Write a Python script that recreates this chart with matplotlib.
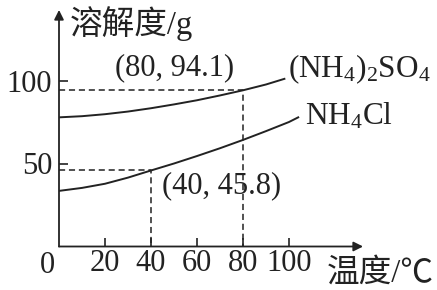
import matplotlib
matplotlib.use("Agg")
import matplotlib.pyplot as plt

plt.rcParams['font.family'] = ['Liberation Serif', 'Noto Sans CJK SC']
plt.rcParams['mathtext.fontset'] = 'custom'
plt.rcParams['mathtext.rm'] = 'Liberation Serif'
plt.rcParams['mathtext.it'] = 'Liberation Serif:italic'

# données
temp_sulfate = [0, 10, 20, 30, 40, 50, 60, 70, 80, 90, 98]
sol_sulfate = [77.8, 78.5, 79.7, 81.3, 83.3, 85.6, 88.1, 91.0, 94.1, 97.6, 101.0]
temp_chlorure = [0, 10, 20, 30, 40, 50, 60, 70, 80, 90, 100, 104]
sol_chlorure = [33.5, 35.3, 37.8, 41.5, 45.8, 50.0, 54.5, 59.2, 64.2, 69.5, 75.0, 77.8]
point_sulfate = (80, 94.1)
point_chlorure = (40, 45.8)
xticks = [20, 40, 60, 80, 100]
yticks = [50, 100]
xmax, ymax = 132.2, 142.5

fig = plt.figure(figsize=(4.37, 2.90), dpi=100)
W, H = 437, 290
x0, y0 = 59, 246.5
sx, sy = 2.3, 1.66
ax = fig.add_axes([x0 / W, (H - y0) / H, xmax * sx / W, ymax * sy / H])
ax.set_xlim(0, xmax)
ax.set_ylim(0, ymax)
for s in ax.spines.values():
    s.set_visible(False)

c = '#222222'

# axes avec flèches
arrow = dict(arrowstyle='-|>', lw=1.3, color=c, mutation_scale=14, shrinkA=0, shrinkB=0)
ax.annotate('', xy=(xmax, 0), xytext=(0, 0), arrowprops=arrow, annotation_clip=False)
ax.annotate('', xy=(0, ymax), xytext=(0, 0), arrowprops=arrow, annotation_clip=False)

ax.set_xticks(xticks)
ax.set_yticks(yticks)
ax.tick_params(direction='in', length=6.5, width=1.2, color=c, labelsize=22, labelcolor=c)
ax.tick_params(axis='x', pad=2)
ax.tick_params(axis='y', pad=5)

# courbes
ax.plot(temp_sulfate, sol_sulfate, color=c, lw=1.4)
ax.plot(temp_chlorure, sol_chlorure, color=c, lw=1.4)

# lignes pointillées
for px, py in [point_sulfate, point_chlorure]:
    ax.plot([0, px, px], [py, py, 0], color=c, lw=1.1, ls=(0, (4, 2.5)))

# textes
ax.text(-5, -11.5, '0', fontsize=22, ha='center', va='center', color=c, clip_on=False)
ax.text(4.8, 134.5, '溶解度/g', fontsize=23.5, ha='left', va='center', color=c, clip_on=False)
ax.text(116.5, -16, '温度/℃', fontsize=23.5, ha='left', va='center', color=c, clip_on=False)
ax.text(24.5, 107.5, '(%g, %g)' % point_sulfate, fontsize=22, ha='left', va='center', color=c)
ax.text(45, 36.4, '(%g, %g)' % point_chlorure, fontsize=22, ha='left', va='center', color=c)
ax.text(99.6, 106.5, r'(NH$_4$)$_2$SO$_4$', fontsize=22.5, ha='left', va='center', color=c, clip_on=False)
ax.text(107, 78.5, r'NH$_4$Cl', fontsize=22.5, ha='left', va='center', color=c, clip_on=False)

fig.savefig('out.png', dpi=100, facecolor='white')
